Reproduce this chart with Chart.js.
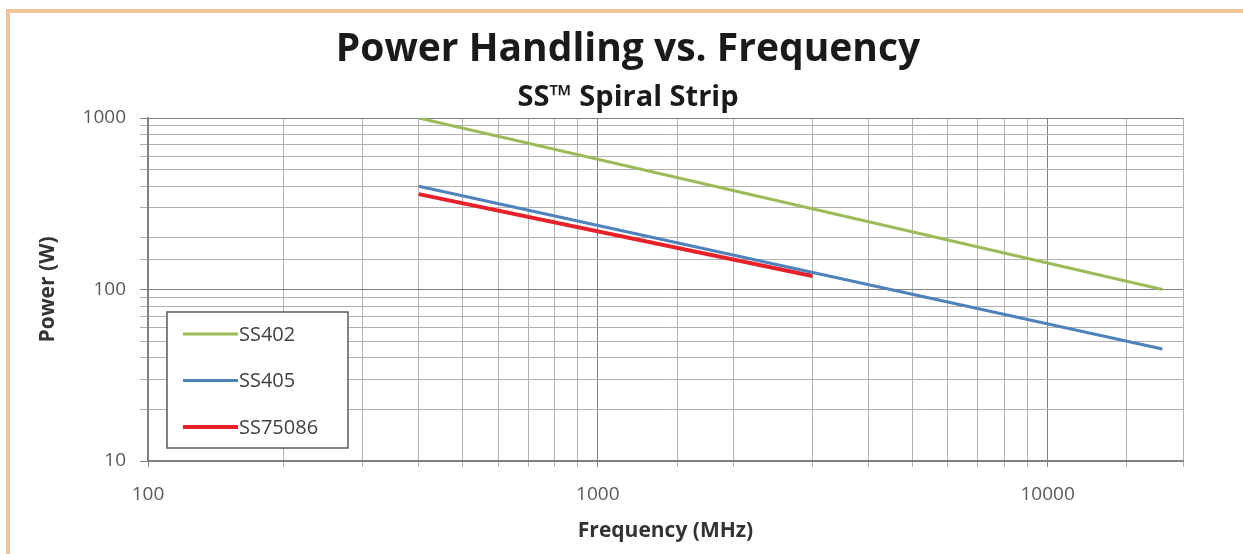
<!DOCTYPE html>
<html>
<head>
<meta charset="utf-8">
<script src="https://cdn.jsdelivr.net/npm/chart.js@4.4.1/dist/chart.umd.min.js"></script>
<style>
    html, body { margin: 0; padding: 0; background: #ffffff; }
    #wrap { position: relative; width: 1243px; height: 554px; overflow: hidden; }
    #frame-top { position: absolute; left: 6px; top: 9px; width: 1237px; height: 4px; background: #efc69c; }
    #frame-left { position: absolute; left: 6px; top: 9px; width: 4px; height: 545px; background: #efc69c; }
</style>
</head>
<body>
<div id="wrap">
    <canvas id="power-chart" width="1243" height="554"></canvas>
    <div id="frame-top"></div>
    <div id="frame-left"></div>
</div>
<script>
// values (log-log, straight lines between end points)
const seriesNames = ['SS402', 'SS405', 'SS75086'];
const ss402Freq = [400, 18000];
const ss402Power = [1000, 100];
const ss405Freq = [400, 18000];
const ss405Power = [400, 45];
const ss75086Freq = [400, 3000];
const ss75086Power = [360, 120];
const xTickLabels = [100, 1000, 10000];
const yTickLabels = [10, 100, 1000];

const chartTitle = 'Power Handling vs. Frequency';
const chartSubtitle = 'SS™ Spiral Strip';

const seriesColors = ['#9bbb59', '#4f81bd', '#e8202a'];
const seriesWidths = [3, 3, 4];
const FONT = '"Open Sans", sans-serif';

function toPoints(xs, ys) {
    return xs.map((x, i) => ({ x: x, y: ys[i] }));
}

const datasets = [
    toPoints(ss402Freq, ss402Power),
    toPoints(ss405Freq, ss405Power),
    toPoints(ss75086Freq, ss75086Power),
].map((pts, i) => ({
    label: seriesNames[i],
    data: pts,
    borderColor: seriesColors[i],
    backgroundColor: seriesColors[i],
    borderWidth: seriesWidths[i],
    pointRadius: 0,
    fill: false,
    tension: 0,
}));

const isDecade = (v) => Math.abs(Math.log10(v) - Math.round(Math.log10(v))) < 1e-9;

// title + subtitle sit a bit left of the plot centre in the original, so draw them by hand
const headerText = {
    id: 'headerText',
    afterDraw(chart) {
        const { ctx } = chart;
        ctx.save();
        ctx.fillStyle = '#1a1a1a';
        ctx.textAlign = 'center';
        ctx.textBaseline = 'middle';
        ctx.font = 'bold 39px ' + FONT;
        ctx.fillText(chartTitle, 628, 50);
        ctx.font = 'bold 29px ' + FONT;
        ctx.fillText(chartSubtitle, 628, 98);
        ctx.restore();
    },
};

// Excel style legend box sitting inside the plot, lower left
const insideLegend = {
    id: 'insideLegend',
    afterDatasetsDraw(chart) {
        const { ctx, chartArea } = chart;
        const boxX = chartArea.left + 19;
        const boxW = 181;
        const boxH = 136;
        const boxY = chartArea.bottom - 13 - boxH;
        ctx.save();
        ctx.fillStyle = '#ffffff';
        ctx.fillRect(boxX, boxY, boxW, boxH);
        ctx.strokeStyle = '#595959';
        ctx.lineWidth = 1.5;
        ctx.strokeRect(boxX, boxY, boxW, boxH);
        ctx.font = '20px ' + FONT;
        ctx.textBaseline = 'middle';
        chart.data.datasets.forEach((ds, i) => {
            const y = boxY + 22 + i * 46.5;
            ctx.strokeStyle = ds.borderColor;
            ctx.lineWidth = ds.borderWidth;
            ctx.beginPath();
            ctx.moveTo(boxX + 16, y);
            ctx.lineTo(boxX + 71, y);
            ctx.stroke();
            ctx.fillStyle = '#404040';
            ctx.fillText(ds.label, boxX + 72, y + 1);
        });
        ctx.restore();
    },
};

const gridColor = (c) => (c.tick && isDecade(c.tick.value) ? '#808080' : '#b0b0b0');

const ctx = document.getElementById('power-chart').getContext('2d');
new Chart(ctx, {
    type: 'line',
    data: { datasets: datasets },
    plugins: [insideLegend, headerText],
    options: {
        responsive: false,
        animation: false,
        layout: { padding: { left: 31, right: 60, top: 118, bottom: 0 } },
        plugins: {
            legend: { display: false },
            tooltip: { enabled: false },
            title: { display: false },
        },
        scales: {
            x: {
                type: 'logarithmic',
                min: 100,
                max: 20000,
                afterFit(scale) { scale.height = 93; },
                grid: { color: gridColor, lineWidth: 1, tickLength: 6 },
                border: { color: '#808080', width: 1.5 },
                ticks: {
                    autoSkip: false,
                    maxRotation: 0,
                    padding: 16,
                    color: '#595959',
                    font: { family: FONT, size: 19 },
                    callback: (v) => (xTickLabels.includes(v) ? String(v) : ''),
                },
                title: {
                    display: true,
                    text: 'Frequency (MHz)',
                    color: '#333333',
                    font: { family: FONT, size: 21, weight: 'bold' },
                    padding: { top: 4, bottom: 10 },
                },
            },
            y: {
                type: 'logarithmic',
                min: 10,
                max: 1000,
                afterFit(scale) { scale.width = 117; },
                grid: { color: gridColor, lineWidth: 1, tickLength: 8 },
                border: { color: '#808080', width: 1.5 },
                ticks: {
                    autoSkip: false,
                    padding: 14,
                    color: '#595959',
                    font: { family: FONT, size: 19 },
                    callback: (v) => (yTickLabels.includes(v) ? String(v) : ''),
                },
                title: {
                    display: true,
                    text: 'Power (W)',
                    color: '#333333',
                    font: { family: FONT, size: 21, weight: 'bold' },
                    padding: { top: 4, bottom: 0 },
                },
            },
        },
    },
});
</script>
</body>
</html>
